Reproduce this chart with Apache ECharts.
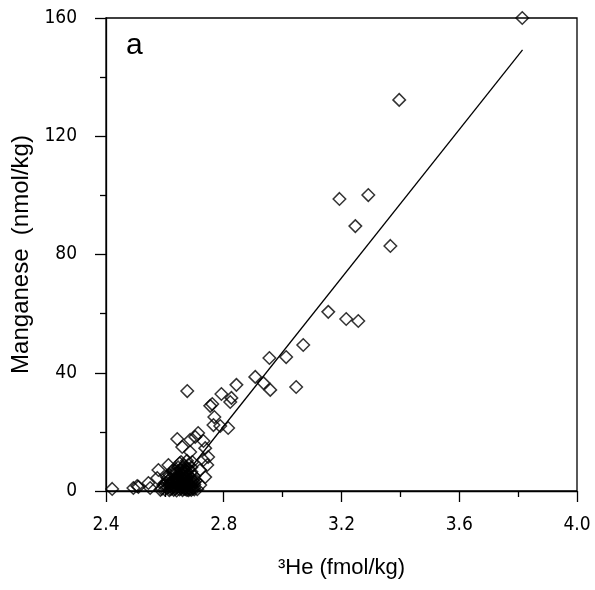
<!DOCTYPE html>
<html>
<head>
<meta charset="utf-8">
<script src="https://cdn.jsdelivr.net/npm/echarts@6/dist/echarts.min.js"></script>
<style>html,body{margin:0;padding:0;background:#fff}#c{width:595px;height:590px}</style>
</head>
<body>
<div id="c"></div>
<script>
// ---- data ----
const xTicks = [2.4, 2.8, 3.2, 3.6, 4.0];
const yTicks = [0, 40, 80, 120, 160];
const he3 = [
  3.814, 3.396, 3.291, 3.193, 3.247, 3.366, 3.155, 3.216, 3.257, 3.070,
  3.012, 2.955, 2.907, 2.935, 2.958, 3.046, 2.843, 2.792, 2.826, 2.761,
  2.754, 2.822, 2.676, 2.768, 2.765, 2.788, 2.815, 2.642, 2.713, 2.686,
  2.703, 2.731, 2.737, 2.747, 2.731, 2.744, 2.720, 2.737, 2.720, 2.612,
  2.578, 2.574, 2.506, 2.544, 2.550, 2.493, 2.510, 2.421, 2.659, 2.686,
  2.693, 2.669,
  2.60, 2.60, 2.61, 2.61, 2.615, 2.62, 2.62, 2.62, 2.625, 2.63,
  2.63, 2.63, 2.63, 2.635, 2.64, 2.64, 2.64, 2.64, 2.64, 2.645,
  2.65, 2.65, 2.65, 2.65, 2.65, 2.655, 2.655, 2.66, 2.66, 2.66,
  2.66, 2.66, 2.665, 2.665, 2.67, 2.67, 2.67, 2.67, 2.67, 2.675,
  2.675, 2.68, 2.68, 2.68, 2.68, 2.685, 2.69, 2.69, 2.69, 2.695,
  2.70, 2.70, 2.705, 2.71, 2.59, 2.595, 2.605, 2.585, 2.625, 2.615,
  2.645, 2.68, 2.665, 2.69, 2.70, 2.65, 2.675,
  2.615, 2.625, 2.635, 2.635, 2.645, 2.645, 2.655, 2.655, 2.66, 2.665,
  2.665, 2.67, 2.675, 2.675, 2.675, 2.68, 2.685, 2.685, 2.69, 2.695,
  2.70, 2.70, 2.64, 2.65, 2.66, 2.63, 2.62, 2.61, 2.605, 2.68,
  2.69, 2.655
];
const manganese = [
  160.0, 132.3, 100.1, 98.8, 89.6, 82.9, 60.6, 58.2, 57.5, 49.4,
  45.3, 45.0, 38.6, 36.5, 34.2, 35.2, 35.9, 32.8, 31.5, 29.4,
  28.8, 30.1, 33.8, 25.0, 22.3, 22.0, 21.3, 17.6, 19.6, 17.3,
  18.3, 16.9, 14.5, 11.5, 10.5, 8.8, 7.1, 4.7, 2.0, 8.8,
  7.1, 4.4, 1.7, 2.7, 1.0, 1.0, 1.4, 0.7, 14.9, 13.2,
  9.8, 7.1,
  0.5, 2.1, 1.2, 3.4, 0.3, 1.8, 4.2, 0.6, 2.9, 0.4,
  1.5, 3.6, 5.8, 2.4, 0.2, 1.1, 2.7, 4.5, 6.3, 3.3,
  0.5, 1.6, 2.2, 3.9, 5.1, 0.9, 7.2, 0.3, 1.4, 2.8,
  4.1, 5.6, 1.9, 3.4, 0.6, 1.2, 2.5, 3.8, 6.1, 0.4,
  4.7, 1.0, 2.1, 3.2, 5.3, 0.5, 1.6, 2.9, 4.4, 0.8,
  2.2, 1.1, 3.5, 0.6, 0.8, 1.9, 4.9, 0.4, 6.8, 5.5,
  8.0, 7.5, 8.6, 6.5, 5.0, 9.4, 10.2,
  2.6, 1.0, 4.0, 0.8, 1.9, 5.4, 2.6, 4.6, 6.8, 0.7,
  5.0, 4.6, 1.8, 2.9, 6.6, 0.3, 3.9, 2.4, 0.4, 3.6,
  0.5, 3.0, 3.6, 6.9, 8.0, 7.2, 3.0, 4.4, 2.8, 8.9,
  8.0, 9.8
];
// least-squares line as drawn
const fitSlope = 125.4;
const fitIntercept = -329.2;
const fitXRange = [2.64, 3.815];

const points = he3.map((x, i) => [x, manganese[i]]);
const fitLine = fitXRange.map(x => [x, fitSlope * x + fitIntercept]);

const chart = echarts.init(document.getElementById('c'), null, {renderer: 'canvas'});
const tickFont = '"DejaVu Sans Condensed", "Liberation Sans", sans-serif';
const titleFont = '"Liberation Sans", Arial, sans-serif';
chart.setOption({
  animation: false,
  backgroundColor: '#fff',
  grid: {left: 106, right: 18, top: 18, bottom: 99, show: true, borderColor: '#000', borderWidth: 1.3, backgroundColor: 'transparent'},
  xAxis: {
    type: 'value', min: xTicks[0], max: xTicks[xTicks.length - 1], interval: 0.4,
    name: '³He (fmol/kg)', nameLocation: 'middle', nameGap: 66,
    nameTextStyle: {fontFamily: titleFont, fontSize: 22, color: '#000'},
    axisLine: {show: true, onZero: false, lineStyle: {color: '#000', width: 1.3}},
    axisTick: {show: true, inside: false, length: 11, lineStyle: {color: '#000', width: 1.3}},
    minorTick: {show: true, splitNumber: 2, length: 6, lineStyle: {color: '#000', width: 1.3}},
    axisLabel: {margin: 25, fontFamily: tickFont, fontSize: 19, color: '#000', formatter: v => v.toFixed(1)},
    splitLine: {show: false}
  },
  yAxis: {
    type: 'value', min: yTicks[0], max: yTicks[yTicks.length - 1], interval: 40,
    name: 'Manganese  (nmol/kg)', nameLocation: 'middle', nameGap: 68,
    nameTextStyle: {fontFamily: titleFont, fontSize: 24, color: '#000'},
    axisLine: {show: true, onZero: false, lineStyle: {color: '#000', width: 1.3}},
    axisTick: {show: true, inside: false, length: 11, lineStyle: {color: '#000', width: 1.3}},
    minorTick: {show: true, splitNumber: 2, length: 6, lineStyle: {color: '#000', width: 1.3}},
    axisLabel: {margin: 29, fontFamily: tickFont, fontSize: 19, color: '#000'},
    splitLine: {show: false}
  },
  graphic: [{
    type: 'text', left: 126, top: 31,
    style: {text: 'a', font: '30px "Liberation Sans", Arial, sans-serif', fill: '#000'}
  }],
  series: [
    {
      type: 'line', data: fitLine, showSymbol: false, symbol: 'none',
      lineStyle: {color: '#000', width: 1.3}, z: 2
    },
    {
      type: 'scatter', data: points, symbol: 'diamond', symbolSize: 12.5,
      itemStyle: {color: 'rgba(0,0,0,0)', borderColor: '#000', borderWidth: 1.5}, z: 3,
      clip: false
    }
  ]
});
</script>
</body>
</html>
